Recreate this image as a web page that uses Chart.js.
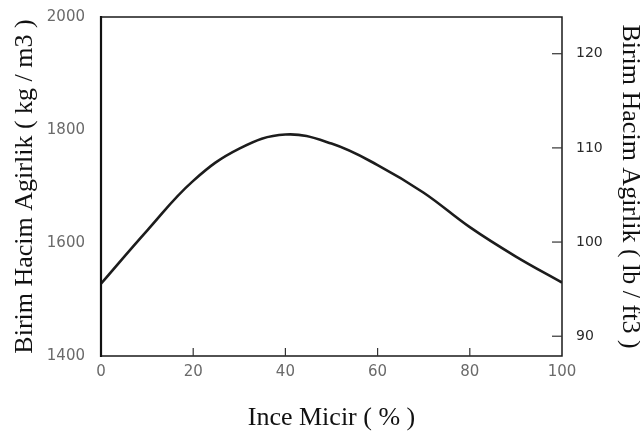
<!DOCTYPE html>
<html>
<head>
<meta charset="utf-8">
<script src="https://cdn.jsdelivr.net/npm/chart.js@4.4.0/dist/chart.umd.min.js"></script>
<style>
  html, body { margin: 0; padding: 0; background: #fff; }
  #wrap { width: 640px; height: 443px; }
</style>
</head>
<body>
<div id="wrap"><canvas id="grafico" width="640" height="443"></canvas></div>
<script>
// ince micir yuzdesi ve birim hacim agirlik (kg/m3)
const inceMicir = [0, 10, 20, 30, 40, 50, 60, 70, 80, 90, 100];
const birimAgirlik = [1528, 1622, 1710, 1767, 1792, 1776, 1738, 1689, 1628, 1576, 1530];
const xTicks = [0, 20, 40, 60, 80, 100];
const kgTicks = [1400, 1600, 1800, 2000];
const lbTicks = [90, 100, 110, 120];

const ctx = document.getElementById("grafico").getContext("2d");

// cerceve + iceri bakan tick cizgileri
const cercevePlugin = {
    id: "cerceve",
    afterDraw(chart) {
        const a = chart.chartArea;
        const c = chart.ctx;
        c.save();
        c.strokeStyle = "#1a1a1a";
        c.lineWidth = 1.5;
        c.beginPath();
        c.moveTo(a.left, a.top);
        c.lineTo(a.right, a.top);
        c.lineTo(a.right, a.bottom);
        c.lineTo(a.left, a.bottom);
        c.stroke();
        c.lineWidth = 2.2;
        c.strokeStyle = "#111";
        c.beginPath();
        c.moveTo(a.left, a.top - 1);
        c.lineTo(a.left, a.bottom + 1);
        c.stroke();

        c.lineWidth = 1.2;
        c.strokeStyle = "#333";
        const sx = chart.scales.x;
        xTicks.slice(1, -1).forEach(v => {
            const px = sx.getPixelForValue(v);
            c.beginPath();
            c.moveTo(px, a.bottom);
            c.lineTo(px, a.bottom - 8);
            c.stroke();
        });
        const sy = chart.scales.y1;
        lbTicks.forEach(v => {
            const py = sy.getPixelForValue(v);
            c.beginPath();
            c.moveTo(a.right, py);
            c.lineTo(a.right - 10, py);
            c.stroke();
        });
        c.restore();
    }
};

const yazi = v => String(v);

const myChart = new Chart(ctx, {
    type: "line",
    data: {
        datasets: [
            {
                label: "Birim Hacim Agirlik",
                data: inceMicir.map((x, i) => ({x: x, y: birimAgirlik[i]})),
                borderColor: "#1c1c1c",
                borderWidth: 2.6,
                pointRadius: 0,
                fill: false,
                tension: 0.4,
                yAxisID: "y"
            }
        ]
    },
    options: {
        responsive: false,
        animation: false,
        layout: { padding: { top: 13, left: 0, right: 0, bottom: 0 } },
        plugins: {
            legend: { display: false },
            tooltip: { enabled: false }
        },
        scales: {
            x: {
                type: "linear",
                min: 0,
                max: 100,
                afterBuildTicks: s => { s.ticks = xTicks.map(v => ({value: v})); },
                afterFit: s => { s.height = 87; },
                grid: { display: false },
                border: { display: false },
                ticks: {
                    padding: -1,
                    color: "#6a6a6a",
                    font: { family: "DejaVu Sans", size: 15 },
                    maxRotation: 0,
                    callback: yazi
                },
                title: {
                    display: true,
                    text: "Ince Micir ( % )",
                    color: "#111",
                    font: { family: "Liberation Serif", size: 26, lineHeight: 1 },
                    padding: { top: 0, bottom: 12 }
                }
            },
            y: {
                position: "left",
                min: 1400,
                max: 2000,
                afterBuildTicks: s => { s.ticks = kgTicks.map(v => ({value: v})); },
                afterFit: s => { s.width = 101; },
                grid: { display: false },
                border: { display: false },
                ticks: {
                    padding: 8,
                    color: "#6a6a6a",
                    font: { family: "DejaVu Sans", size: 15 },
                    callback: yazi
                },
                title: {
                    display: true,
                    text: "Birim Hacim Agirlik ( kg / m3 )",
                    color: "#111",
                    font: { family: "Liberation Serif", size: 26, lineHeight: 1 },
                    padding: { top: 12, bottom: 0 }
                }
            },
            y1: {
                position: "right",
                min: 87.9,
                max: 123.9,
                afterBuildTicks: s => { s.ticks = lbTicks.map(v => ({value: v})); },
                afterFit: s => { s.width = 78; },
                grid: { display: false },
                border: { display: false },
                ticks: {
                    padding: 6,
                    color: "#2a2a2a",
                    font: { family: "DejaVu Sans", size: 14 },
                    callback: yazi
                },
                title: {
                    display: true,
                    text: "Birim Hacim Agirlik ( lb / ft3 )",
                    color: "#111",
                    font: { family: "Liberation Serif", size: 26, lineHeight: 1 },
                    padding: { top: -3, bottom: 0 }
                }
            }
        }
    },
    plugins: [cercevePlugin]
});
</script>
</body>
</html>
